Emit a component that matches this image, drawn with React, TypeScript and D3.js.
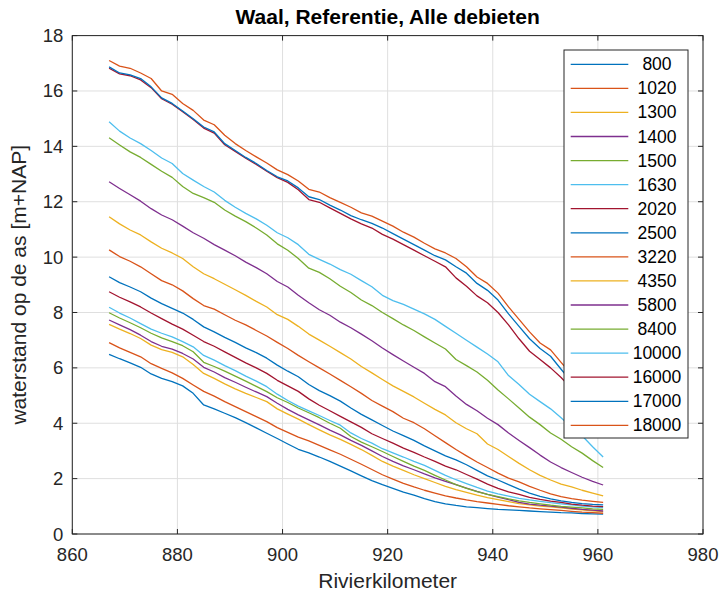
import React from "react";
import * as d3 from "d3";

// River kilometres at which water levels are sampled
const km = [
  867, 869, 871, 873, 875, 877, 879, 881, 883, 885, 887, 889,
  891, 893, 895, 897, 899, 901, 903, 905, 907, 909, 911, 913,
  915, 917, 919, 921, 923, 925, 927, 929, 931, 933, 935, 937,
  939, 941, 943, 945, 947, 949, 951, 953, 955, 957, 959, 961,
];

// Discharge labels (m3/s), legend order
const discharges = [
  "800", "1020", "1300", "1400", "1500", "1630", "2020", "2500",
  "3220", "4350", "5800", "8400", "10000", "16000", "17000", "18000",
];

// Water level on the axis [m+NAP] per discharge
const q800 = [6.49, 6.33, 6.18, 6.02, 5.78, 5.62, 5.5, 5.35, 5.08, 4.66, 4.52, 4.36, 4.2, 4.02, 3.83, 3.64, 3.45, 3.25, 3.06, 2.93, 2.78, 2.62, 2.45, 2.28, 2.1, 1.93, 1.78, 1.65, 1.51, 1.4, 1.28, 1.17, 1.09, 1.03, 0.98, 0.95, 0.92, 0.89, 0.87, 0.85, 0.83, 0.81, 0.79, 0.77, 0.76, 0.74, 0.73, 0.72];
const q1020 = [6.91, 6.72, 6.56, 6.4, 6.15, 5.98, 5.82, 5.62, 5.38, 5.15, 4.98, 4.78, 4.6, 4.42, 4.24, 4.06, 3.84, 3.67, 3.5, 3.36, 3.2, 3.04, 2.88, 2.7, 2.52, 2.33, 2.14, 1.98, 1.83, 1.7, 1.58, 1.48, 1.38, 1.3, 1.23, 1.17, 1.12, 1.07, 1.02, 0.98, 0.94, 0.91, 0.88, 0.85, 0.82, 0.79, 0.77, 0.75];
const q1300 = [7.57, 7.4, 7.24, 7.06, 6.82, 6.66, 6.56, 6.4, 6.12, 5.8, 5.62, 5.42, 5.24, 5.08, 4.93, 4.78, 4.52, 4.33, 4.15, 3.95, 3.76, 3.58, 3.42, 3.24, 3.05, 2.84, 2.62, 2.45, 2.3, 2.14, 2.0, 1.86, 1.72, 1.6, 1.5, 1.4, 1.31, 1.24, 1.17, 1.1, 1.05, 1.01, 0.98, 0.94, 0.9, 0.87, 0.84, 0.81];
const q1400 = [7.73, 7.55, 7.38, 7.18, 6.95, 6.78, 6.68, 6.52, 6.32, 6.02, 5.85, 5.65, 5.48, 5.3, 5.13, 4.96, 4.72, 4.5, 4.3, 4.12, 3.94, 3.75, 3.58, 3.38, 3.2, 3.0, 2.8, 2.62, 2.46, 2.32, 2.17, 2.03, 1.9, 1.78, 1.66, 1.54, 1.43, 1.33, 1.24, 1.14, 1.08, 1.04, 1.01, 0.97, 0.93, 0.89, 0.86, 0.83];
const q1500 = [7.99, 7.8, 7.63, 7.45, 7.25, 7.08, 6.95, 6.8, 6.58, 6.2, 6.05, 5.88, 5.7, 5.52, 5.33, 5.14, 4.92, 4.75, 4.55, 4.38, 4.2, 4.0, 3.82, 3.52, 3.32, 3.15, 2.98, 2.8, 2.62, 2.45, 2.3, 2.12, 1.95, 1.78, 1.65, 1.53, 1.43, 1.35, 1.27, 1.2, 1.14, 1.09, 1.04, 1.0, 0.97, 0.94, 0.91, 0.89];
const q1630 = [8.19, 7.98, 7.8, 7.6, 7.4, 7.25, 7.12, 6.95, 6.76, 6.45, 6.28, 6.08, 5.9, 5.7, 5.52, 5.32, 5.05, 4.82, 4.62, 4.45, 4.28, 4.1, 3.93, 3.65, 3.45, 3.28, 3.08, 2.93, 2.78, 2.62, 2.48, 2.3, 2.12, 1.96, 1.82, 1.68, 1.55, 1.45, 1.37, 1.29, 1.23, 1.18, 1.13, 1.09, 1.05, 1.01, 0.98, 0.95];
const q2020 = [8.75, 8.55, 8.38, 8.2, 7.98, 7.78, 7.58, 7.4, 7.18, 6.95, 6.78, 6.58, 6.38, 6.18, 6.0, 5.8, 5.55, 5.35, 5.15, 4.88, 4.65, 4.45, 4.25, 4.05, 3.85, 3.62, 3.45, 3.28, 3.1, 2.95, 2.78, 2.62, 2.45, 2.32, 2.15, 1.98, 1.8, 1.65, 1.52, 1.43, 1.32, 1.25, 1.19, 1.14, 1.08, 1.04, 1.01, 0.99];
const q2500 = [9.29, 9.08, 8.92, 8.75, 8.52, 8.32, 8.15, 7.98, 7.75, 7.48, 7.3, 7.1, 6.92, 6.72, 6.55, 6.35, 6.1, 5.88, 5.68, 5.4, 5.18, 5.0, 4.8, 4.55, 4.32, 4.12, 3.92, 3.72, 3.55, 3.38, 3.18, 3.0, 2.82, 2.68, 2.5, 2.3, 2.1, 1.95, 1.78, 1.62, 1.48, 1.36, 1.27, 1.2, 1.14, 1.1, 1.07, 1.05];
const q3220 = [10.26, 10.02, 9.85, 9.65, 9.4, 9.15, 9.0, 8.78, 8.5, 8.25, 8.12, 7.92, 7.72, 7.55, 7.35, 7.15, 6.92, 6.7, 6.45, 6.22, 6.0, 5.78, 5.55, 5.32, 5.08, 4.82, 4.62, 4.42, 4.18, 4.02, 3.8, 3.55, 3.3, 3.05, 2.82, 2.6, 2.4, 2.2, 2.02, 1.88, 1.72, 1.58, 1.45, 1.35, 1.28, 1.22, 1.18, 1.14];
const q4350 = [11.46, 11.2, 10.98, 10.8, 10.55, 10.32, 10.15, 9.95, 9.65, 9.4, 9.22, 9.02, 8.82, 8.62, 8.4, 8.2, 7.92, 7.75, 7.5, 7.22, 7.0, 6.78, 6.55, 6.32, 6.05, 5.82, 5.58, 5.35, 5.15, 4.95, 4.72, 4.5, 4.3, 4.02, 3.8, 3.62, 3.25, 3.05, 2.8, 2.55, 2.32, 2.12, 1.95, 1.8, 1.7, 1.58, 1.48, 1.38];
const q5800 = [12.72, 12.48, 12.25, 12.02, 11.75, 11.52, 11.35, 11.12, 10.88, 10.68, 10.45, 10.25, 10.05, 9.82, 9.62, 9.4, 9.12, 8.92, 8.62, 8.35, 8.1, 7.9, 7.65, 7.45, 7.22, 6.98, 6.72, 6.48, 6.25, 6.02, 5.8, 5.5, 5.32, 4.98, 4.68, 4.45, 4.18, 3.95, 3.65, 3.38, 3.12, 2.85, 2.6, 2.4, 2.22, 2.05, 1.9, 1.77];
const q8400 = [14.31, 14.05, 13.8, 13.6, 13.35, 13.1, 12.88, 12.55, 12.3, 12.15, 11.98, 11.7, 11.48, 11.28, 11.05, 10.8, 10.48, 10.25, 9.95, 9.6, 9.45, 9.22, 8.95, 8.72, 8.45, 8.25, 8.0, 7.78, 7.55, 7.35, 7.12, 6.9, 6.68, 6.3, 6.08, 5.85, 5.55, 5.2, 4.88, 4.55, 4.22, 3.95, 3.65, 3.42, 3.15, 2.92, 2.65, 2.4];
const q10000 = [14.89, 14.55, 14.3, 14.1, 13.85, 13.58, 13.38, 13.02, 12.78, 12.55, 12.35, 12.05, 11.8, 11.58, 11.38, 11.15, 10.88, 10.7, 10.45, 10.1, 9.92, 9.75, 9.55, 9.38, 9.15, 8.93, 8.62, 8.43, 8.29, 8.12, 7.95, 7.75, 7.5, 7.25, 7.0, 6.75, 6.5, 6.22, 5.72, 5.4, 5.05, 4.78, 4.52, 4.2, 3.85, 3.55, 3.15, 2.78];
const q16000 = [16.82, 16.62, 16.55, 16.4, 16.12, 15.72, 15.52, 15.25, 14.97, 14.66, 14.48, 14.06, 13.82, 13.57, 13.35, 13.1, 12.87, 12.7, 12.43, 12.08, 11.98, 11.78, 11.58, 11.38, 11.2, 11.05, 10.82, 10.65, 10.45, 10.25, 10.05, 9.85, 9.65, 9.25, 8.95, 8.6, 8.35, 8.0, 7.55, 7.05, 6.6, 6.3, 6.0, 5.65, 5.25, 4.9, 4.6, 4.3];
const q17000 = [16.87, 16.65, 16.58, 16.45, 16.15, 15.75, 15.55, 15.28, 15.0, 14.7, 14.52, 14.1, 13.85, 13.6, 13.38, 13.13, 12.9, 12.75, 12.5, 12.18, 12.08, 11.88, 11.7, 11.5, 11.35, 11.22, 11.05, 10.85, 10.65, 10.45, 10.25, 10.05, 9.9, 9.65, 9.42, 9.05, 8.8, 8.45, 7.95, 7.5, 7.05, 6.7, 6.42, 5.95, 5.5, 5.15, 4.85, 4.55];
const q18000 = [17.1, 16.9, 16.82, 16.65, 16.45, 16.0, 15.88, 15.55, 15.3, 14.95, 14.78, 14.4, 14.1, 13.85, 13.62, 13.4, 13.15, 12.98, 12.75, 12.45, 12.35, 12.15, 11.98, 11.8, 11.6, 11.48, 11.3, 11.12, 10.9, 10.72, 10.5, 10.3, 10.15, 9.95, 9.65, 9.28, 9.05, 8.7, 8.2, 7.75, 7.3, 6.9, 6.65, 6.2, 5.75, 5.4, 5.1, 4.8];

const levels = [
  q800, q1020, q1300, q1400, q1500, q1630, q2020, q2500,
  q3220, q4350, q5800, q8400, q10000, q16000, q17000, q18000,
];

const xTicks = [860, 880, 900, 920, 940, 960, 980];
const yTicks = [0, 2, 4, 6, 8, 10, 12, 14, 16, 18];

// Default colour order, cycled per series
const palette = ["#0072BD", "#D95319", "#EDB120", "#7E2F8E", "#77AC30", "#4DBEEE", "#A2142F"];

const W = 723;
const H = 593;
const plot = { left: 72.3, right: 703, top: 35.6, bottom: 534 };
const font = "'Liberation Sans', Arial, Helvetica, sans-serif";
const axisColor = "#262626";
const tickLen = 5;

export default function App() {
  const x = d3.scaleLinear().domain([860, 980]).range([plot.left, plot.right]);
  const y = d3.scaleLinear().domain([0, 18]).range([plot.bottom, plot.top]);

  const line = d3
    .line<[number, number]>()
    .x((d) => x(d[0]))
    .y((d) => y(d[1]));

  const legend = { x: 564, y: 50, w: 124, h: 388, first: 14.3, step: 24.07 };

  return (
    <svg
      width={W}
      height={H}
      style={{ position: "absolute", left: 0, top: 0, display: "block", background: "#fff" }}
      fontFamily={font}
    >
      <rect x={0} y={0} width={W} height={H} fill="#fff" />

      {/* grid */}
      <g stroke="#dfdfdf" strokeWidth={1}>
        {xTicks.map((t) => (
          <line key={"gx" + t} x1={x(t)} x2={x(t)} y1={plot.top} y2={plot.bottom} />
        ))}
        {yTicks.map((t) => (
          <line key={"gy" + t} x1={plot.left} x2={plot.right} y1={y(t)} y2={y(t)} />
        ))}
      </g>

      {/* water level profiles */}
      <g fill="none" strokeWidth={1.3} strokeLinejoin="round">
        {levels.map((vals, i) => (
          <path
            key={discharges[i]}
            d={line(km.map((k, j) => [k, vals[j]] as [number, number])) || ""}
            stroke={palette[i % palette.length]}
          />
        ))}
      </g>

      {/* axes box and ticks */}
      <g stroke={axisColor} strokeWidth={1} fill="none">
        <rect
          x={plot.left}
          y={plot.top}
          width={plot.right - plot.left}
          height={plot.bottom - plot.top}
        />
        {xTicks.map((t) => (
          <g key={"tx" + t}>
            <line x1={x(t)} x2={x(t)} y1={plot.bottom} y2={plot.bottom - tickLen} />
            <line x1={x(t)} x2={x(t)} y1={plot.top} y2={plot.top + tickLen} />
          </g>
        ))}
        {yTicks.map((t) => (
          <g key={"ty" + t}>
            <line x1={plot.left} x2={plot.left + tickLen} y1={y(t)} y2={y(t)} />
            <line x1={plot.right} x2={plot.right - tickLen} y1={y(t)} y2={y(t)} />
          </g>
        ))}
      </g>

      {/* tick labels */}
      <g fill={axisColor} fontSize={18.5}>
        {xTicks.map((t) => (
          <text key={"lx" + t} x={x(t)} y={plot.bottom + 27} textAnchor="middle">
            {t}
          </text>
        ))}
        {yTicks.map((t) => (
          <text key={"ly" + t} x={plot.left - 9} y={y(t) + 6.5} textAnchor="end">
            {t}
          </text>
        ))}
      </g>

      {/* axis labels and title */}
      <text
        x={(plot.left + plot.right) / 2}
        y={588}
        textAnchor="middle"
        fontSize={21}
        fill={axisColor}
      >
        Rivierkilometer
      </text>
      <text
        transform={`translate(26,${(plot.top + plot.bottom) / 2}) rotate(-90)`}
        textAnchor="middle"
        fontSize={21}
        fill={axisColor}
      >
        waterstand op de as [m+NAP]
      </text>
      <text
        x={(plot.left + plot.right) / 2}
        y={24}
        textAnchor="middle"
        fontSize={21}
        fontWeight="bold"
        fill="#000"
      >
        Waal, Referentie, Alle debieten
      </text>

      {/* legend */}
      <g>
        <rect
          x={legend.x}
          y={legend.y}
          width={legend.w}
          height={legend.h}
          fill="#fff"
          stroke={axisColor}
          strokeWidth={1}
        />
        {discharges.map((label, i) => {
          const cy = legend.y + legend.first + i * legend.step;
          return (
            <g key={"lg" + label}>
              <line
                x1={570.7}
                x2={628.3}
                y1={cy}
                y2={cy}
                stroke={palette[i % palette.length]}
                strokeWidth={1.3}
              />
              <text x={657} y={cy + 6} textAnchor="middle" fontSize={17.5} fill="#000">
                {label}
              </text>
            </g>
          );
        })}
      </g>
    </svg>
  );
}
